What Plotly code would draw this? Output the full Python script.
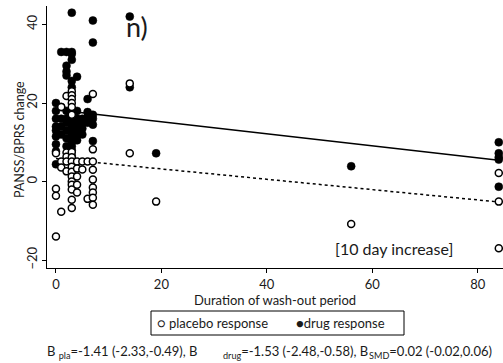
import plotly.graph_objects as go

# ---- data ----
drug_days = ([0]*9 + [1]*5 + [2]*10 + [3]*19 + [4]*7 + [5]*4 + [6]*4 + [7]*6
             + [14]*2 + [19] + [56] + [84]*5)
drug_change = [20, 18, 16, 14, 13, 11.5, 9.5, 7.7, 4.4,
               33, 19, 16, 14, 12,
               33, 29.5, 28, 27, 18, 16, 15, 13, 11, 9,
               43, 33, 32.5, 31, 25.6, 24, 22, 18, 17, 16, 15, 14, 13, 12, 11, 10, 9, 8, 6.5,
               26.7, 18, 16, 15, 13.5, 12, 10.5,
               16, 15, 13.5, 12,
               21, 17.7, 16.5, 15,
               41, 35.4, 17, 16, 14.5, 10.3,
               42, 24,
               7.2,
               3.9,
               10, 7.2, 6.2, 5.6, -1.3]

placebo_days = ([0]*4 + [1]*4 + [2]*5 + [3]*17 + [4]*5 + [5]*2 + [6]*2 + [7]*9
                + [14]*2 + [19] + [56] + [84]*3)
placebo_change = [7.2, -1.8, -3.6, -14,
                  19, 5.1, 3.6, -7.7,
                  21.8, 7.4, 6.3, 5.1, 2.6,
                  23, 22, 21, 20, 19, 17, 7.5, 6.2, 5.1, 3.8, 2.5, 1.3, 0, -0.8, -2, -4.6, -6.7,
                  5.1, 3.3, 1.3, -0.8, -2.8,
                  5.1, 3.1,
                  5.1, -4.4,
                  22.3, 8.2, 5.1, 3, 0.5, -1.5, -2.8, -4.1, -5.9,
                  25, 7.2,
                  -5.1,
                  -10.8,
                  2.2, -5.1, -17]

fit_days = [0, 84]
drug_fit = [18.3, 5.45]
placebo_fit = [5.85, -5.2]

x_ticks = [0, 20, 40, 60, 80]
y_ticks = [-20, 0, 20, 40]

FONT = "Lato"
TXT = "#1a1a1a"

fig = go.Figure()
fig.add_trace(go.Scatter(x=fit_days, y=drug_fit, mode="lines",
                         line=dict(color="black", width=1.5), showlegend=False))
fig.add_trace(go.Scatter(x=fit_days, y=placebo_fit, mode="lines",
                         line=dict(color="black", width=1.5, dash="3px,3px"), showlegend=False))
fig.add_trace(go.Scatter(x=drug_days, y=drug_change, mode="markers", name="drug response",
                         marker=dict(symbol="circle", size=8, color="black",
                                     line=dict(color="black", width=0.5)),
                         showlegend=False))
fig.add_trace(go.Scatter(x=placebo_days, y=placebo_change, mode="markers", name="placebo response",
                         marker=dict(symbol="circle", size=7, color="white",
                                     line=dict(color="black", width=1.5)),
                         showlegend=False))

W, H = 503, 363
L, R, T, B = 47, 0, 6, 95
pw, ph = W - L - R, H - T - B

def px(xp):
    return (xp - L) / pw

def py(yp):
    return (H - B - yp) / ph

annotations = [
    dict(x=15.4, y=39.4, xref="x", yref="y", text="n)", showarrow=False,
         font=dict(family=FONT, size=27, color=TXT)),
    dict(x=64.2, y=-17.1, xref="x", yref="y", text="[10 day increase]", showarrow=False,
         font=dict(family=FONT, size=16, color=TXT)),
    dict(x=px(19), y=py(140), xref="paper", yref="paper", textangle=-90,
         xanchor="center", yanchor="middle",
         text="PANSS/BPRS change", showarrow=False, font=dict(family=FONT, size=12.5, color=TXT)),
    dict(x=px(155), y=py(323), xref="paper", yref="paper", xanchor="left", yanchor="middle",
         text="○ placebo response", showarrow=False, font=dict(family=FONT, size=13, color=TXT)),
    dict(x=px(294), y=py(323), xref="paper", yref="paper", xanchor="left", yanchor="middle",
         text="●drug response", showarrow=False, font=dict(family=FONT, size=13, color=TXT)),
    dict(x=px(45), y=py(352), xref="paper", yref="paper", xanchor="left", yanchor="middle",
         text="B <sub>pla</sub>=-1.41 (-2.33,-0.49), B", showarrow=False,
         font=dict(family=FONT, size=13, color=TXT)),
    dict(x=px(221), y=py(352), xref="paper", yref="paper", xanchor="left", yanchor="middle",
         text="<sub>drug</sub>=-1.53 (-2.48,-0.58), B", showarrow=False,
         font=dict(family=FONT, size=13, color=TXT)),
    dict(x=px(367), y=py(352), xref="paper", yref="paper", xanchor="left", yanchor="middle",
         text="<sub>SMD</sub>=0.02 (-0.02,0.06)", showarrow=False,
         font=dict(family=FONT, size=13, color=TXT)),
]

shapes = [dict(type="rect", xref="paper", yref="paper",
               x0=px(151), x1=px(404), y0=py(335), y1=py(311),
               line=dict(color="black", width=1), fillcolor="rgba(0,0,0,0)")]

fig.update_layout(
    width=W, height=H,
    margin=dict(l=L, r=R, t=T, b=B, pad=0),
    paper_bgcolor="white", plot_bgcolor="white",
    font=dict(family=FONT, size=13, color=TXT),
    showlegend=False,
    annotations=annotations,
    shapes=shapes,
    xaxis=dict(range=[-1.7, 84.8], tickvals=x_ticks, ticks="outside", ticklen=4,
               tickcolor="black", showline=True, linecolor="black", linewidth=1.2,
               showgrid=False, zeroline=False, tickfont=dict(size=13, color=TXT),
               title=dict(text="Duration of wash-out period", standoff=0,
                          font=dict(size=13, color=TXT))),
    yaxis=dict(range=[-22, 44.7], tickvals=y_ticks, ticks="outside", ticklen=4,
               tickcolor="black", showline=True, linecolor="black", linewidth=1.2,
               showgrid=False, zeroline=False, tickangle=-90,
               tickfont=dict(size=13, color=TXT)),
)

fig.write_html("out.html", config={"displayModeBar": False},
               post_script="document.body.style.margin='0';")
